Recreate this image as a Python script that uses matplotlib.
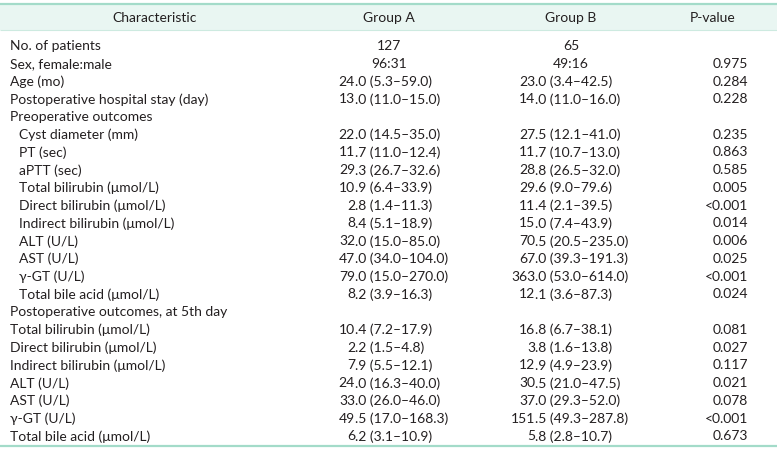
import matplotlib
matplotlib.use("Agg")
import matplotlib.pyplot as plt
from matplotlib.patches import Rectangle

plt.rcParams['font.family'] = ['Lato', 'Open Sans', 'DejaVu Sans']

headers = ["Characteristic", "Group A", "Group B", "P-value"]

characteristics = [
    "No. of patients", "Sex, female:male", "Age (mo)", "Postoperative hospital stay (day)",
    "Preoperative outcomes", "Cyst diameter (mm)", "PT (sec)", "aPTT (sec)",
    "Total bilirubin (μmol/L)", "Direct bilirubin (μmol/L)", "Indirect bilirubin (μmol/L)",
    "ALT (U/L)", "AST (U/L)", "γ-GT (U/L)", "Total bile acid (μmol/L)",
    "Postoperative outcomes, at 5th day", "Total bilirubin (μmol/L)", "Direct bilirubin (μmol/L)",
    "Indirect bilirubin (μmol/L)", "ALT (U/L)", "AST (U/L)", "γ-GT (U/L)", "Total bile acid (μmol/L)",
]
indented = [False, False, False, False, False, True, True, True, True, True, True,
            True, True, True, True, False, False, False, False, False, False, False, False]

group_a = [
    "127", "96:31", "24.0 (5.3–59.0)", "13.0 (11.0–15.0)", "",
    "22.0 (14.5–35.0)", "11.7 (11.0–12.4)", "29.3 (26.7–32.6)", "10.9 (6.4–33.9)",
    "2.8 (1.4–11.3)", "8.4 (5.1–18.9)", "32.0 (15.0–85.0)", "47.0 (34.0–104.0)",
    "79.0 (15.0–270.0)", "8.2 (3.9–16.3)", "",
    "10.4 (7.2–17.9)", "2.2 (1.5–4.8)", "7.9 (5.5–12.1)", "24.0 (16.3–40.0)",
    "33.0 (26.0–46.0)", "49.5 (17.0–168.3)", "6.2 (3.1–10.9)",
]
group_b = [
    "65", "49:16", "23.0 (3.4–42.5)", "14.0 (11.0–16.0)", "",
    "27.5 (12.1–41.0)", "11.7 (10.7–13.0)", "28.8 (26.5–32.0)", "29.6 (9.0–79.6)",
    "11.4 (2.1–39.5)", "15.0 (7.4–43.9)", "70.5 (20.5–235.0)", "67.0 (39.3–191.3)",
    "363.0 (53.0–614.0)", "12.1 (3.6–87.3)", "",
    "16.8 (6.7–38.1)", "3.8 (1.6–13.8)", "12.9 (4.9–23.9)", "30.5 (21.0–47.5)",
    "37.0 (29.3–52.0)", "151.5 (49.3–287.8)", "5.8 (2.8–10.7)",
]
p_values = [
    "", "0.975", "0.284", "0.228", "",
    "0.235", "0.863", "0.585", "0.005", "<0.001", "0.014", "0.006", "0.025",
    "<0.001", "0.024", "",
    "0.081", "0.027", "0.117", "0.021", "0.078", "<0.001", "0.673",
]

W, H = 777, 452
fig = plt.figure(figsize=(W / 100, H / 100), dpi=100)
ax = fig.add_axes([0, 0, 1, 1])
ax.set_xlim(0, W)
ax.set_ylim(H, 0)
ax.axis('off')

text_color = '#231f20'
fs = 10

# header background and rules
ax.add_patch(Rectangle((0, 5), W, 26, facecolor='#e9f6f2', edgecolor='none'))
ax.plot([0, W], [4.8, 4.8], color='#a3dbc9', lw=1.6, solid_capstyle='butt')
ax.plot([0, W], [31, 31], color='#cdeae0', lw=0.8, solid_capstyle='butt')
ax.plot([0, W], [447, 447], color='#a3dbc9', lw=1.6, solid_capstyle='butt')

header_x = [155, 389, 571, 713]
for hx, h in zip(header_x, headers):
    ax.text(hx, 18.5, h, ha='center', va='center', fontsize=fs, color=text_color)

y0, dy = 46, 17.75
xa_dec, xb_dec = 355, 535
xa_c, xb_c = 389, 571
xp_right = 748


def put_value(x_dec, x_c, y, s):
    if not s:
        return
    if '.' in s.split(' ')[0]:
        i = s.index('.')
        ax.text(x_dec, y, s[:i], ha='right', va='center', fontsize=fs, color=text_color)
        ax.text(x_dec, y, s[i:], ha='left', va='center', fontsize=fs, color=text_color)
    else:
        ax.text(x_c, y, s, ha='center', va='center', fontsize=fs, color=text_color)


for i, (c, ind) in enumerate(zip(characteristics, indented)):
    y = y0 + i * dy
    ax.text(19 if ind else 10, y, c, ha='left', va='center', fontsize=fs, color=text_color)
    put_value(xa_dec, xa_c, y, group_a[i])
    put_value(xb_dec, xb_c, y, group_b[i])
    if p_values[i]:
        ax.text(xp_right, y, p_values[i], ha='right', va='center', fontsize=fs, color=text_color)

fig.savefig('out.png', dpi=100)
